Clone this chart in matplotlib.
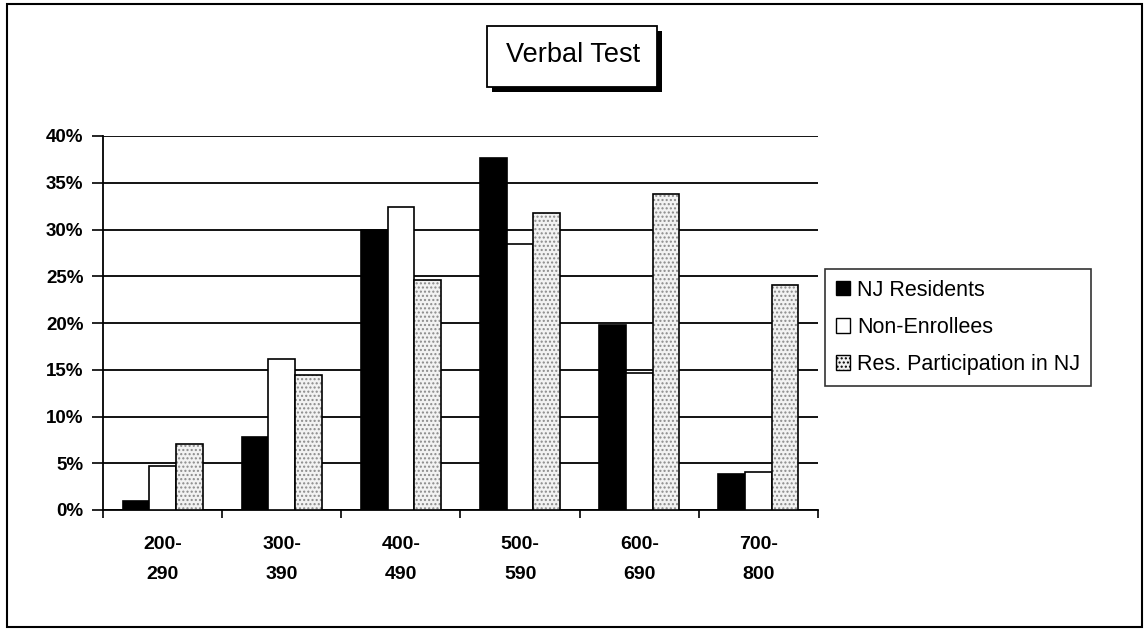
import numpy as np
import matplotlib.pyplot as plt
from matplotlib.patches import Rectangle, Patch

plt.rcParams['font.family'] = ['Liberation Sans', 'DejaVu Sans']

# score ranges and percentages
ranges = ["200-\n290", "300-\n390", "400-\n490", "500-\n590", "600-\n690", "700-\n800"]
nj_residents = [1.0, 7.8, 30.0, 37.7, 19.8, 3.9]
non_enrollees = [4.7, 16.1, 32.4, 28.5, 14.6, 4.1]
res_participation = [7.1, 14.4, 24.6, 31.8, 33.8, 24.1]
series_names = ["NJ Residents", "Non-Enrollees", "Res. Participation in NJ"]

W, H = 1145, 629
fig = plt.figure(figsize=(W / 100, H / 100), dpi=100)


def fx(px):
    return px / W


def fy(py):
    return 1 - py / H


ax = fig.add_axes([fx(103), fy(510), fx(818) - fx(103), fy(136) - fy(510)])

x = np.arange(len(ranges))
bw = 0.224

ax.bar(x - bw, nj_residents, bw, color='black', edgecolor='black', linewidth=1.2, zorder=3)
ax.bar(x, non_enrollees, bw, color='white', edgecolor='black', linewidth=1.2, zorder=3)
ax.bar(x + bw, res_participation, bw, color='#f2f2f2', edgecolor='#8a8a8a', hatch='....',
       linewidth=0, zorder=3)
ax.bar(x + bw, res_participation, bw, fill=False, edgecolor='black', linewidth=1.2, zorder=4)

ax.set_xlim(-0.5, len(ranges) - 0.5)
ax.set_ylim(0, 40)
ax.set_yticks(np.arange(0, 41, 5))
ax.set_yticklabels([f"{v}%" for v in range(0, 41, 5)], fontsize=13.5, fontweight='bold')
ax.set_xticks(x)
ax.set_xticklabels(ranges, fontsize=14, fontweight='bold', linespacing=2.0)
ax.set_xticks(np.arange(-0.5, len(ranges), 1), minor=True)
ax.tick_params(axis='x', which='major', length=0, pad=19)
ax.tick_params(axis='x', which='minor', length=6, width=1.2, direction='out')
ax.tick_params(axis='y', length=8, width=1.2, pad=6)

ax.grid(axis='y', color='black', linewidth=1.3, zorder=0)
ax.set_axisbelow(True)
for side in ['top', 'right']:
    ax.spines[side].set_visible(False)
for side in ['left', 'bottom']:
    ax.spines[side].set_linewidth(1.3)

handles = [
    Patch(facecolor='black', edgecolor='black', linewidth=1),
    Patch(facecolor='white', edgecolor='black', linewidth=1),
    Patch(facecolor='#f2f2f2', edgecolor='black', linewidth=1, hatch='....'),
]
leg = fig.legend(handles, series_names, loc='upper left',
                 bbox_to_anchor=(fx(825), fy(269)), fontsize=15.5,
                 handlelength=0.65, handleheight=0.65, handletextpad=0.35,
                 labelspacing=0.75, borderpad=0.5, borderaxespad=0,
                 fancybox=False, frameon=True)
leg.get_frame().set_edgecolor('black')
leg.get_frame().set_linewidth(1.2)

# title box with a drop shadow
fig.add_artist(Rectangle((fx(492), fy(92)), fx(170), fy(31) - fy(92),
                         transform=fig.transFigure, facecolor='black', edgecolor='none'))
fig.add_artist(Rectangle((fx(487), fy(87)), fx(170), fy(26) - fy(87),
                         transform=fig.transFigure, facecolor='white', edgecolor='black',
                         linewidth=1.3))
fig.text(fx(573), fy(55), "Verbal Test", fontsize=19.5, ha='center', va='center')

# outer border
fig.add_artist(Rectangle((fx(7), fy(627)), fx(1135), fy(4) - fy(627),
                         transform=fig.transFigure, fill=False, edgecolor='black',
                         linewidth=1.5))

fig.savefig("out.png", dpi=100)
